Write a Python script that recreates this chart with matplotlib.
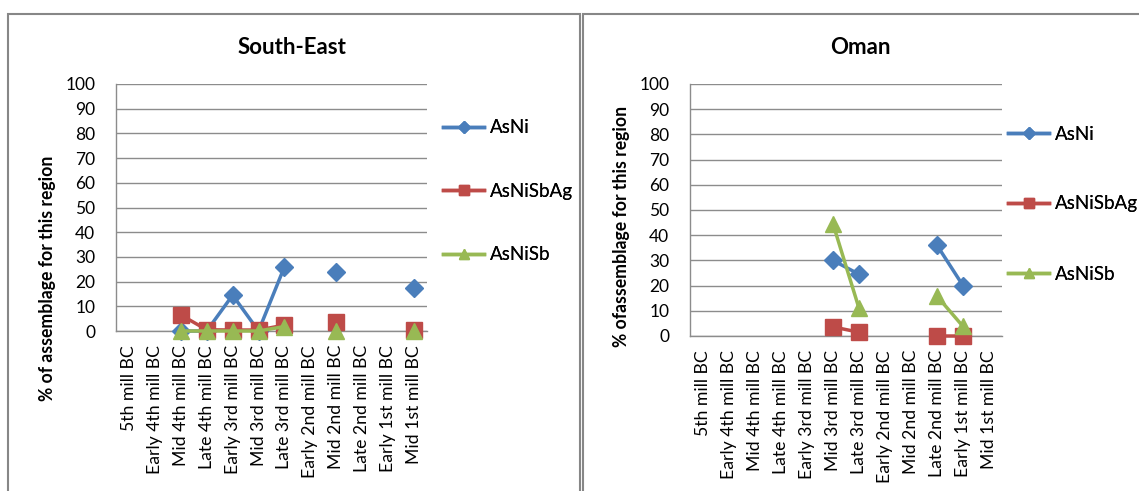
import numpy as np
import matplotlib
matplotlib.use("Agg")
import matplotlib.pyplot as plt
from matplotlib.patches import Rectangle
from matplotlib.lines import Line2D

plt.rcParams['font.family'] = ['Lato', 'DejaVu Sans']

# ---------------- data ----------------
categories = ["5th mill BC", "Early 4th mill BC", "Mid 4th mill BC", "Late 4th mill BC",
              "Early 3rd mill BC", "Mid 3rd mill BC", "Late 3rd mill BC", "Early 2nd mill BC",
              "Mid 2nd mill BC", "Late 2nd mill BC", "Early 1st mill BC", "Mid 1st mill BC"]
series_names = ["AsNi", "AsNiSbAg", "AsNiSb"]
nan = np.nan

se_asni = [nan, nan, 0, 0, 14.5, 0, 26, nan, 24, nan, nan, 17.5]
se_asnisbag = [nan, nan, 6.5, 0.5, 0.4, 0.4, 2.4, nan, 3.5, nan, nan, 0.3]
se_asnisb = [nan, nan, 0, 0, 0, 0, 1.8, nan, 0, nan, nan, 0]

om_asni = [nan, nan, nan, nan, nan, 30, 24.5, nan, nan, 36, 20, nan]
om_asnisbag = [nan, nan, nan, nan, nan, 3.6, 1.5, nan, nan, 0, 0, nan]
om_asnisb = [nan, nan, nan, nan, nan, 44.5, 11, nan, nan, 15.8, 3.8, nan]

y_ticks = list(range(0, 101, 10))

titles = ["South-East", "Oman"]
ylabels = ["% of assemblage for this region", "% ofassemblage for this region"]

# ---------------- style ----------------
W, H = 1139, 491
colors = ['#4A7EBB', '#BE4B48', '#98B954']
markers = ['D', 's', '^']
msizes = [9.5, 11, 11]
grid_c = '#8C8C8C'
border_c = '#878787'


def fx(px):
    return px / W


def fy(py):
    return 1 - py / H


fig = plt.figure(figsize=(W / 100, H / 100), dpi=100)
fig.patch.set_facecolor('white')

# chart boxes
fig.add_artist(Rectangle((fx(7.5), fy(520)), (579.5 - 7.5) / W, (520 - 13.5) / H,
                         transform=fig.transFigure, fill=False, ec=border_c, lw=1.5))
fig.add_artist(Rectangle((fx(582.5), fy(520)), (1160 - 582.5) / W, (520 - 13.5) / H,
                         transform=fig.transFigure, fill=False, ec=border_c, lw=1.5))


def draw(rect, data, title, ylabel, title_xy, ylab_xy, leg_x, leg_ys):
    ax = fig.add_axes(rect)
    x = np.arange(len(categories))
    for i, (vals, name) in enumerate(zip(data, series_names)):
        ax.plot(x, vals, color=colors[i], lw=2.5, marker=markers[i], ms=msizes[i],
                mec=colors[i], mfc=colors[i], label=name, clip_on=False, zorder=3 + i)
    ax.set_xlim(-0.5, len(categories) - 0.5)
    ax.set_ylim(0, 100)
    ax.set_yticks(y_ticks)
    ax.set_xticks(x)
    ax.set_xticklabels(categories, rotation=90, ha='center', va='top', fontsize=12.7)
    ax.tick_params(axis='y', length=0, pad=15, labelsize=12.5, colors='black')
    ax.tick_params(axis='x', length=0, pad=10)
    ax.grid(axis='y', color=grid_c, lw=1.0)
    ax.set_axisbelow(True)
    for s in ['top', 'right']:
        ax.spines[s].set_visible(False)
    ax.spines['left'].set_color(grid_c)
    ax.spines['bottom'].set_color(grid_c)
    ax.spines['left'].set_linewidth(1.0)
    ax.spines['bottom'].set_linewidth(1.0)
    fig.text(fx(title_xy[0]), fy(title_xy[1]), title, ha='center', va='center',
             fontsize=16, fontweight='bold')
    fig.text(fx(ylab_xy[0]), fy(ylab_xy[1]), ylabel, ha='center', va='center',
             rotation=90, fontsize=12.7, fontweight='bold')
    for i in range(3):
        h = Line2D([], [], color=colors[i], lw=2.5, marker=markers[i],
                   ms=msizes[i] * 0.65, mec=colors[i], mfc=colors[i])
        leg = fig.legend([h], [series_names[i]], loc='center left',
                         bbox_to_anchor=(fx(leg_x), fy(leg_ys[i])),
                         bbox_transform=fig.transFigure, frameon=False, fontsize=13.5,
                         handlelength=2.2, handletextpad=0.3,
                         borderaxespad=0, borderpad=0)
        fig.add_artist(leg)
    return ax


draw([fx(116), fy(331), 311 / W, 247 / H], [se_asni, se_asnisbag, se_asnisb],
     titles[0], ylabels[0], (292, 47), (48, 278), 443, (128, 191, 255))
draw([fx(690), fy(336), 312 / W, 252 / H], [om_asni, om_asnisbag, om_asnisb],
     titles[1], ylabels[1], (860, 47), (622, 226), 1008, (134, 204, 274))

fig.savefig('out.png', dpi=100)
